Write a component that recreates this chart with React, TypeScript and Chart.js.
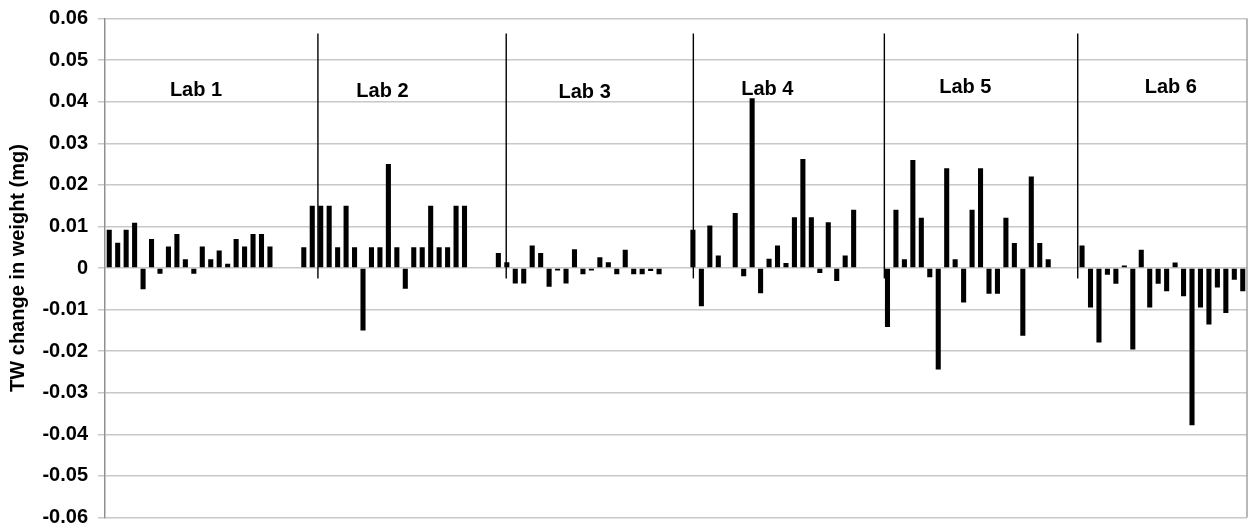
import React, { useEffect, useRef } from "react";
import { Chart, registerables } from "chart.js";

Chart.register(...registerables);

const labNames = ["Lab 1", "Lab 2", "Lab 3", "Lab 4", "Lab 5", "Lab 6"];

const lab1 = [0.0092, 0.0061, 0.0092, 0.0109, -0.0051, 0.007, -0.0014, 0.0052, 0.0082, 0.0021, -0.0014, 0.0052, 0.0021, 0.0042, 0.001, 0.007, 0.0052, 0.0082, 0.0082, 0.0052];
const lab2 = [0.005, 0.015, 0.015, 0.015, 0.005, 0.015, 0.005, -0.015, 0.005, 0.005, 0.025, 0.005, -0.005, 0.005, 0.005, 0.015, 0.005, 0.005, 0.015, 0.015];
const lab3 = [0.0036, 0.0014, -0.0037, -0.0037, 0.0054, 0.0036, -0.0045, -0.0006, -0.0037, 0.0045, -0.0015, -0.0006, 0.0026, 0.0014, -0.0015, 0.0044, -0.0015, -0.0015, -0.0007, -0.0015];
const lab4 = [0.0092, -0.0092, 0.0102, 0.003, 0, 0.0132, -0.002, 0.0408, -0.0061, 0.0022, 0.0054, 0.0012, 0.0122, 0.0262, 0.0122, -0.0012, 0.011, -0.0031, 0.003, 0.014];
const lab5 = [-0.0142, 0.014, 0.0021, 0.026, 0.0121, -0.0022, -0.0244, 0.024, 0.0021, -0.0083, 0.014, 0.024, -0.0062, -0.0062, 0.0121, 0.006, -0.0163, 0.022, 0.006, 0.0021];
const lab6 = [0.0054, -0.0095, -0.0179, -0.0016, -0.0038, 0.0006, -0.0196, 0.0044, -0.0095, -0.0038, -0.0056, 0.0013, -0.0068, -0.0378, -0.0095, -0.0136, -0.0047, -0.0108, -0.0028, -0.0056];

const labSeries = [lab1, lab2, lab3, lab4, lab5, lab6];
const gapSlots = 3; // empty category slots between labs

// separator lines (category index units), from top value to bottom value
const separatorIndex = [24.67, 46.93, 69.05, 91.63, 114.49];
const separatorTop = 0.0564;
const separatorBottom = -0.0025;

// lab label anchor positions (category index, value)
const labLabelIndex = [10.26, 32.3, 56.2, 77.8, 101.2, 125.5];
const labLabelValue = [0.0428, 0.0424, 0.0423, 0.043, 0.0435, 0.0435];

const yMin = -0.06;
const yMax = 0.06;
const yStep = 0.01;

const values: (number | null)[] = [];
labSeries.forEach((s, i) => {
  s.forEach((v) => values.push(v));
  if (i < labSeries.length - 1) for (let k = 0; k < gapSlots; k++) values.push(null);
});
const categories = values.map((_, i) => String(i));

const FONT = "Arial, 'Liberation Sans', sans-serif";

const overlayPlugin = {
  id: "overlay",
  afterDatasetsDraw(chart: any) {
    const { ctx, chartArea, scales } = chart;
    const x = scales.x;
    const y = scales.y;
    ctx.save();
    // right border
    ctx.strokeStyle = "#a0a0a0";
    ctx.lineWidth = 1.5;
    ctx.beginPath();
    ctx.moveTo(chartArea.right, chartArea.top);
    ctx.lineTo(chartArea.right, chartArea.bottom);
    ctx.stroke();
    // separators
    ctx.strokeStyle = "#000";
    ctx.lineWidth = 1.4;
    separatorIndex.forEach((idx) => {
      const px = x.getPixelForValue(idx);
      ctx.beginPath();
      ctx.moveTo(px, y.getPixelForValue(separatorTop));
      ctx.lineTo(px, y.getPixelForValue(separatorBottom));
      ctx.stroke();
    });
    // lab labels
    ctx.fillStyle = "#000";
    ctx.font = `bold 20px ${FONT}`;
    ctx.textAlign = "center";
    ctx.textBaseline = "middle";
    labNames.forEach((name, i) => {
      ctx.fillText(name, x.getPixelForValue(labLabelIndex[i]), y.getPixelForValue(labLabelValue[i]));
    });
    ctx.restore();
  },
};

export default function App() {
  const ref = useRef<HTMLCanvasElement | null>(null);
  useEffect(() => {
    if (!ref.current) return;
    const chart = new Chart(ref.current, {
      type: "bar",
      data: {
        labels: categories,
        datasets: [
          {
            data: values,
            backgroundColor: "#000",
            borderWidth: 0,
            categoryPercentage: 1,
            barPercentage: 0.6,
          },
        ],
      },
      options: {
        responsive: false,
        animation: false,
        events: [],
        layout: { padding: { top: 18.5, right: 1, bottom: 9.5, left: 0 } },
        plugins: { legend: { display: false }, tooltip: { enabled: false } },
        scales: {
          x: {
            type: "category",
            display: false,
            offset: true,
          },
          y: {
            min: yMin,
            max: yMax,
            afterFit(scale: any) {
              scale.width = 105;
              scale.paddingTop = 0;
              scale.paddingBottom = 0;
            },
            ticks: {
              stepSize: yStep,
              padding: 10,
              color: "#000",
              font: { family: FONT, size: 20, weight: "bold" },
              callback: (v: any) => String(Math.round(Number(v) * 100) / 100),
            },
            grid: {
              color: "#c8c8c8",
              lineWidth: 1.5,
              tickLength: 7,
            },
            border: { color: "#909090", width: 1.5 },
            title: {
              display: true,
              text: "TW change in weight (mg)",
              color: "#000",
              font: { family: FONT, size: 20, weight: "bold" },
              padding: { top: 6, bottom: 0 },
            },
          },
        },
      },
      plugins: [overlayPlugin],
    });
    return () => chart.destroy();
  }, []);
  return (
    <div style={{ position: "fixed", left: 0, top: 0, width: 1248, height: 527, background: "#fff" }}>
      <canvas ref={ref} width={1248} height={527} />
    </div>
  );
}
